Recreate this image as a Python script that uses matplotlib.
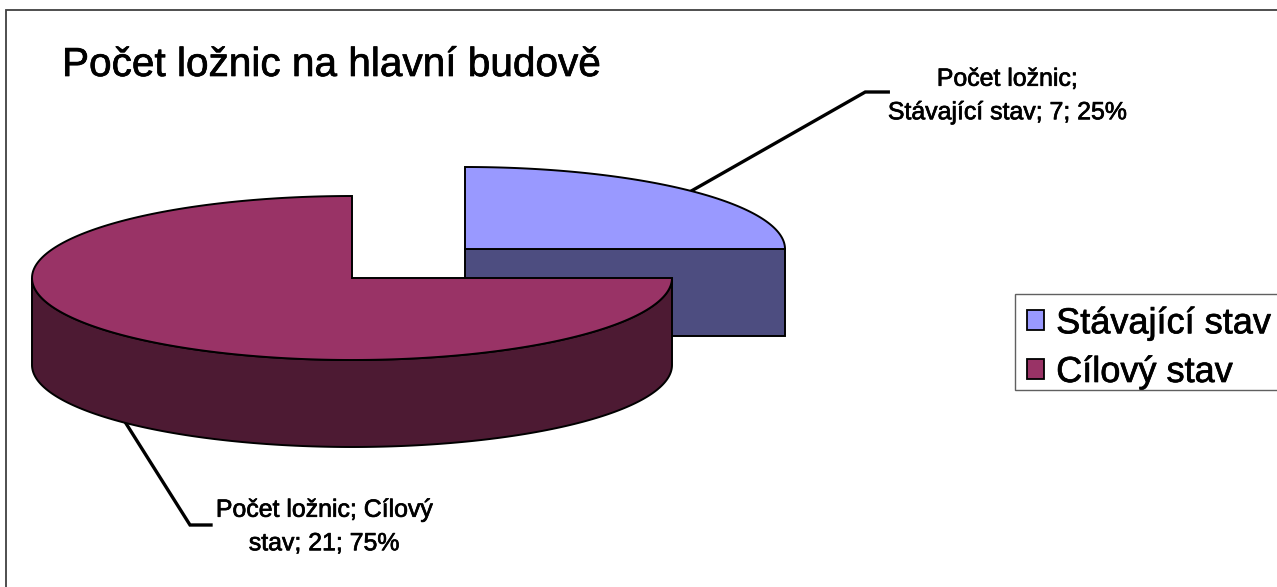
import numpy as np
import matplotlib
matplotlib.use("Agg")
import matplotlib.pyplot as plt
import matplotlib.patheffects as pe
from matplotlib.patches import Polygon, Patch, Rectangle

plt.rcParams['font.family'] = ['Liberation Sans', 'DejaVu Sans']

title = "Počet ložnic na hlavní budově"
series_name = "Počet ložnic"
categories = ["Stávající stav", "Cílový stav"]
values = [7, 21]
top_colors = ["#9999FF", "#993366"]
side_colors = ["#4D4D80", "#4D1A33"]
label_texts = ["Počet ložnic;\nStávající stav; 7; 25%", "Počet ložnic; Cílový\nstav; 21; 75%"]

# layout in pixels
centers = [(465.0, 249.0), (352.0, 278.0)]
RX, RY, DEPTH = 320.0, 82.0, 87.0
EDGE = 1.4

fig = plt.figure(figsize=(12.77, 5.87), dpi=100)
ax = fig.add_axes([0, 0, 1, 1])
ax.set_xlim(0, 1277)
ax.set_ylim(587, 0)
ax.axis('off')

ax.add_patch(Rectangle((6.0, 10.0), 1400, 700, fc='white', ec='#404040', lw=1.3, zorder=0))


def arc(center, a0, a1, n=240):
    t = np.radians(np.linspace(a0, a1, n))
    return np.column_stack([center[0] + RX * np.cos(t), center[1] - RY * np.sin(t)])


total = sum(values)
start = 90.0
spans = []
for v in values:
    sweep = 360.0 * v / total
    spans.append((start, start - sweep))
    start -= sweep

for i, (center, (a0, a1)) in enumerate(zip(centers, spans)):
    z = 2 + i * 2
    rim = arc(center, a0, a1)
    top = np.vstack([[center], rim])
    # outer wall (front-visible part of the rim)
    lo, hi = max(a1, -180.0), min(a0, 0.0)
    if hi > lo:
        front = arc(center, hi, lo)
        wall = np.vstack([front, (front + [0, DEPTH])[::-1]])
        ax.add_patch(Polygon(wall, closed=True, fc=side_colors[i], ec='black', lw=EDGE, zorder=z))
    # flat cut wall facing the viewer: the slice that ends on the horizontal radius
    if np.isclose((a1 + 360) % 360, 0.0):
        p = arc(center, 0, 0, 1)[0]
        cut = np.array([center, p, p + [0, DEPTH], np.array(center) + [0, DEPTH]])
        ax.add_patch(Polygon(cut, closed=True, fc=side_colors[i], ec='black', lw=EDGE, zorder=z))
    ax.add_patch(Polygon(top, closed=True, fc=top_colors[i], ec='black', lw=EDGE, zorder=z + 1))

# leader lines, anchored at each slice's mid-angle
mid0 = np.mean(spans[0])
a = arc(centers[0], mid0, mid0, 1)[0]
ax.plot([a[0], a[0] + 174, a[0] + 197], [a[1], 92, 92], color='black', lw=2.4, zorder=1, solid_joinstyle='miter')
mid1 = np.mean(spans[1])
b = arc(centers[1], mid1, mid1, 1)[0] + [0, DEPTH]
ax.plot([b[0], 190, 211], [b[1], 525, 525], color='black', lw=2.4, zorder=1, solid_joinstyle='miter')

thick = [pe.withStroke(linewidth=0.5, foreground='black')]
ax.text(62, 65, title, fontsize=29.2, ha='left', va='center', color='black', path_effects=thick)
lab = dict(fontsize=17.9, ha='center', va='center', color='black', linespacing=1.5,
           path_effects=thick)
ax.text(1007, 95.5, label_texts[0], **lab)
ax.text(324, 526.5, label_texts[1], **lab)

# legend frame (its right edge runs off the picture)
ax.add_patch(Rectangle((1015, 294), 400, 96, fc='white', ec='#606060', lw=1.0, zorder=9))
handles = [Patch(fc=c, ec='black', lw=1.3) for c in top_colors]
leg = ax.legend(handles, categories, loc='upper left', bbox_to_anchor=(1015, 294),
                bbox_transform=ax.transData, fontsize=26, frameon=False,
                borderaxespad=0, borderpad=0.34,
                handlelength=0.47, handleheight=0.47, handletextpad=0.33, labelspacing=0.38)
leg.set_zorder(10)
for t in leg.get_texts():
    t.set_path_effects(thick)

fig.savefig("out.png", dpi=100)
